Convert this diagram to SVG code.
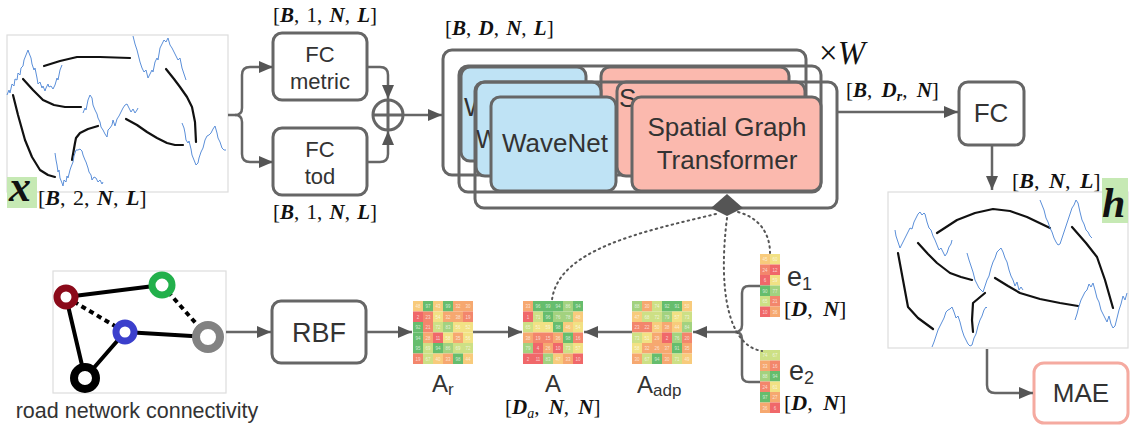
<svg xmlns="http://www.w3.org/2000/svg" width="1135" height="430" viewBox="0 0 1135 430">
<defs>
<style>
.box{fill:#fff;stroke:#666;stroke-width:3}
.frame{fill:none;stroke:#666;stroke-width:3}
.wn{fill:#bfe3f5;stroke:#666;stroke-width:3}
.sg{fill:#fbb9ae;stroke:#666;stroke-width:3}
.lbl{font-family:"Liberation Sans",Arial,sans-serif;fill:#333}
.math{font-family:"Liberation Serif","Times New Roman",serif;fill:#111;word-spacing:2px}
.v{font-style:italic;font-weight:bold}
.con{fill:none;stroke:#666;stroke-width:2.5}
.dot{fill:none;stroke:#555;stroke-width:2;stroke-dasharray:1.5 4;stroke-linecap:round}
.plot{fill:#fff;stroke:#ddd;stroke-width:1.2}
.blk{fill:none;stroke:#111;stroke-width:2.2;stroke-linecap:round;stroke-linejoin:round}
.blu{fill:none;stroke:#5b8fd9;stroke-width:1;stroke-linejoin:round}
.k0{fill:#f0686a}.k1{fill:#f3866c}.k2{fill:#f6a870}.k3{fill:#f8cb7c}
.k4{fill:#f2e184}.k5{fill:#cde085}.k6{fill:#a3d27f}.k7{fill:#66bd6d}
.n{font-family:"Liberation Sans",Arial,sans-serif;font-size:4.5px;fill:#fff;fill-opacity:.7;text-anchor:middle}
.edge{stroke:#000;stroke-width:4;fill:none}
</style>
<marker id="ah" viewBox="0 0 14 12" refX="14" refY="6" markerWidth="14" markerHeight="12" markerUnits="userSpaceOnUse" orient="auto">
<path d="M0,0 L14,6 L0,12 Z" fill="#555"/>
</marker>
</defs>
<rect width="1135" height="430" fill="#fff"/>

<g id="input-x">
<rect class="plot" x="7" y="35" width="221" height="157"/>
<polyline class="blk" points="44,66 60,61 77,57 100,57 130,58"/>
<polyline class="blk" points="23,79 33,90 43,100 54,105 65,107 81,107"/>
<polyline class="blk" points="13,95 18,115 25,140 32,157 40,170 48,175 55,177"/>
<polyline class="blk" points="166,69 174,79 180,87 187,97 192,107 195,122 196,142"/>
<polyline class="blk" points="126,119 137,125 147,132 157,138 167,143 175,145 183,145"/>
<polyline class="blk" points="98,126 88,129 80,133 76,138 75,143 72,160"/>
<polyline class="blu" points="7,95 9,90 10,93 12,84 14,86 15,79 17,80 18,73 20,75 21,68 23,66 24,60 26,55 28,50 29,53 31,58 32,64 34,70 35,68 37,78 38,84 40,82 42,88 43,86 45,91 46,88 48,84 49,87 51,86 53,89 55,85 57,78 58,80 60,70 62,65"/>
<polyline class="blu" points="133,36 135,44 137,50 139,58 140,62 142,68 144,72 146,70 148,78 150,74 152,70 153,72 155,62 157,58 158,60 160,48 162,44 164,40 166,42 168,38 170,45 172,48 174,52 176,56 178,60 180,58 182,68 184,74 186,80"/>
<polyline class="blu" points="83,113 85,108 86,110 88,100 90,95 92,98 93,105 95,110 97,114 98,118 100,122 101,127 103,130 105,134 107,137 108,130 110,128 112,125 113,120 115,126 117,119 119,116 121,112 123,108 125,105 127,104 129,108 131,112 133,109 135,113 137,110 138,108"/>
<polyline class="blu" points="55,153 56,160 57,165 58,172 59,170 60,178 62,183 63,186 64,180 66,182 67,176 68,178 70,170 71,167 73,162 74,156 76,150 78,150 80,149 82,151 83,155 85,160 86,162 88,168 89,172 91,175 92,180 94,177 96,178 98,182 100,180 102,184 103,182"/>
<polyline class="blu" points="182,123 184,128 185,133 186,140 188,143 189,141 191,149 192,155 194,160 196,165 198,163 199,158 201,152 203,148 205,140 207,136 209,135 211,133 213,129 215,126 217,133 218,138 220,142 222,148 224,150 226,150"/>
<rect x="7" y="177" width="30" height="31" fill="#c6e9b4"/>
<text class="math" x="9" y="201" font-size="44" font-style="italic" font-weight="bold">x</text>
<text class="math" x="38" y="205" font-size="22">[<tspan class="v">B</tspan>, 2, <tspan class="v">N</tspan>, <tspan class="v">L</tspan>]</text>
</g>

<g id="fc-metric">
<text class="math" x="273" y="22" font-size="21">[<tspan class="v">B</tspan>, 1, <tspan class="v">N</tspan>, <tspan class="v">L</tspan>]</text>
<rect class="box" x="273" y="33" width="94" height="67" rx="9"/>
<text class="lbl" x="320" y="62" font-size="22" text-anchor="middle">FC</text>
<text class="lbl" x="320" y="89" font-size="22" text-anchor="middle">metric</text>
</g>

<g id="fc-tod">
<rect class="box" x="273" y="128" width="94" height="67" rx="9"/>
<text class="lbl" x="320" y="157" font-size="22" text-anchor="middle">FC</text>
<text class="lbl" x="320" y="184" font-size="22" text-anchor="middle">tod</text>
<text class="math" x="273" y="219" font-size="21">[<tspan class="v">B</tspan>, 1, <tspan class="v">N</tspan>, <tspan class="v">L</tspan>]</text>
</g>

<g id="sum">
<circle cx="388" cy="115" r="15" fill="#fff" stroke="#666" stroke-width="3"/>
<path d="M373,115 H403 M388,100 V130" stroke="#666" stroke-width="3"/>
</g>

<g id="layers">
<text class="math" x="445" y="35" font-size="21">[<tspan class="v">B</tspan>, <tspan class="v">D</tspan>, <tspan class="v">N</tspan>, <tspan class="v">L</tspan>]</text>
<text class="math" x="819" y="64" font-size="33">×<tspan font-style="italic">W</tspan></text>
<g id="layer-1">
<rect class="frame" x="443" y="50" width="363" height="125" rx="9"/>
<rect class="wn" x="461" y="67" width="125" height="94" rx="9"/>
<text class="lbl" x="464" y="116" font-size="26">W</text>
<rect class="sg" x="601" y="67" width="188" height="94" rx="9"/>
</g>
<g id="layer-2">
<rect class="frame" x="459" y="66" width="362" height="126" rx="9"/>
<rect class="wn" x="476" y="82" width="125" height="94" rx="9"/>
<text class="lbl" x="476" y="148" font-size="25">W</text>
<rect class="sg" x="617" y="82" width="188" height="94" rx="9"/>
<text class="lbl" x="619" y="107" font-size="26">S</text>
</g>
<g id="layer-3">
<rect class="frame" x="475" y="82" width="362" height="126" rx="9"/>
<rect class="wn" x="491" y="97" width="125" height="94" rx="9"/>
<text class="lbl" x="555" y="152" font-size="26" text-anchor="middle">WaveNet</text>
<rect class="sg" x="632" y="97" width="189" height="94" rx="9"/>
<text class="lbl" x="727" y="136" font-size="26" text-anchor="middle">Spatial Graph</text>
<text class="lbl" x="727" y="169" font-size="26" text-anchor="middle">Transformer</text>
</g>
<polygon points="727,194 743,208 727,216 711,208" fill="#555"/>
</g>

<g id="fc-out">
<text class="math" x="846" y="97" font-size="21" style="word-spacing:4px">[<tspan class="v">B</tspan>, <tspan class="v">D</tspan><tspan class="v" font-size="14" dy="4">r</tspan><tspan dy="-4">, </tspan><tspan class="v">N</tspan>]</text>
<rect class="box" x="959" y="82" width="65" height="63" rx="9"/>
<text class="lbl" x="991" y="122" font-size="26" text-anchor="middle">FC</text>
</g>

<g id="output-h">
<text class="math" x="1012" y="188" font-size="22" style="word-spacing:4px">[<tspan class="v">B</tspan>, <tspan class="v">N</tspan>, <tspan class="v">L</tspan>]</text>
<rect class="plot" x="888" y="192" width="240" height="156"/>
<polyline class="blk" points="937,233 957,220 975,213 993,209 1010,211 1027,217 1050,228"/>
<polyline class="blk" points="918,243 928,254 937,263 950,273 961,277 972,280"/>
<polyline class="blk" points="898,253 903,280 908,307 918,318 933,329"/>
<polyline class="blk" points="1072,227 1086,243 1097,257 1105,280 1113,308"/>
<polyline class="blk" points="995,278 1008,286 1020,293 1040,299 1060,303 1078,306"/>
<polyline class="blk" points="985,293 973,303 972,320 973,332"/>
<polyline class="blu" points="895,230 896,236 898,242 900,248 902,244 904,240 906,236 908,232 910,228 912,229 914,222 916,218 918,214 920,212 922,215 924,213 925,214 927,222 929,228 931,230 933,236 935,240 937,245 939,250 941,248 943,252 945,256 947,253 949,247 951,244 952,240"/>
<polyline class="blu" points="1040,200 1042,205 1044,210 1046,218 1048,222 1050,228 1052,232 1054,238 1056,242 1058,245 1060,244 1062,238 1064,232 1066,226 1068,220 1070,214 1072,208 1074,205 1076,200 1078,203 1080,212 1082,220 1084,224 1086,230 1088,232 1090,236 1092,238"/>
<polyline class="blu" points="967,253 969,260 971,266 973,272 975,280 977,284 979,288 981,290 983,292 985,286 987,280 989,276 991,268 993,262 995,258 997,252 999,250 1001,248 1003,252 1005,258 1007,262 1009,270 1011,276 1013,280 1015,286 1017,282 1019,290 1021,287 1023,290"/>
<polyline class="blu" points="932,347 934,342 936,336 938,330 940,326 942,322 944,318 946,312 948,310 950,309 952,307 954,312 956,318 958,316 960,322 962,330 964,336 966,340 968,344 970,346 972,345 974,338 976,334 978,326 980,320 982,316 984,310 986,307 987,308"/>
<polyline class="blu" points="1075,320 1077,314 1079,306 1081,300 1083,296 1085,292 1087,290 1089,284 1091,287 1093,283 1095,290 1097,298 1099,302 1101,310 1103,314 1105,318 1107,322 1109,316 1111,324 1113,328 1115,326 1117,318 1119,310 1121,304 1123,296 1125,300 1127,293"/>
<rect x="1102" y="178" width="26" height="45" fill="#c6e9b4"/>
<text class="math" x="1102" y="217" font-size="42" font-style="italic" font-weight="bold">h</text>
</g>

<g id="mae">
<rect x="1034" y="363" width="94" height="60" rx="10" fill="#fff" stroke="#f5aaa0" stroke-width="3"/>
<text class="lbl" x="1081" y="402" font-size="26" text-anchor="middle">MAE</text>
</g>

<g id="road-network">
<rect class="plot" x="53" y="271" width="173" height="122"/>
<path class="edge" d="M66,297 L162,285 M66,297 L85,378 M125,332 L85,378 M125,332 L208,337"/>
<path class="edge" stroke-dasharray="5 4" d="M66,297 L125,332 M162,285 L208,337"/>
<circle cx="66" cy="297" r="9" fill="#fff" stroke="#8b0a1a" stroke-width="7"/>
<circle cx="162" cy="285" r="10" fill="#fff" stroke="#22b04b" stroke-width="7"/>
<circle cx="125" cy="332" r="9" fill="#fff" stroke="#3b3fcc" stroke-width="7"/>
<circle cx="208" cy="337" r="12" fill="#fff" stroke="#828282" stroke-width="8"/>
<circle cx="85" cy="378" r="11" fill="#fff" stroke="#000" stroke-width="8"/>
<text class="lbl" x="137" y="418" font-size="21.5" text-anchor="middle">road network connectivity</text>
</g>

<g id="rbf">
<rect class="box" x="272" y="301" width="94" height="62" rx="9"/>
<text class="lbl" x="319" y="342" font-size="27" text-anchor="middle">RBF</text>
</g>

<g id="A-r">
<g transform="translate(413,301)">
<rect class="k3" x="0" y="0" width="10" height="10.5"/><rect class="k7" x="10" y="0" width="10" height="10.5"/><rect class="k3" x="20" y="0" width="10" height="10.5"/><rect class="k7" x="30" y="0" width="10" height="10.5"/><rect class="k2" x="40" y="0" width="10" height="10.5"/><rect class="k2" x="50" y="0" width="10" height="10.5"/>
<rect class="k0" x="0" y="10.5" width="10" height="10.5"/><rect class="k1" x="10" y="10.5" width="10" height="10.5"/><rect class="k4" x="20" y="10.5" width="10" height="10.5"/><rect class="k2" x="30" y="10.5" width="10" height="10.5"/><rect class="k2" x="40" y="10.5" width="10" height="10.5"/><rect class="k1" x="50" y="10.5" width="10" height="10.5"/>
<rect class="k7" x="0" y="21" width="10" height="10.5"/><rect class="k1" x="10" y="21" width="10" height="10.5"/><rect class="k5" x="20" y="21" width="10" height="10.5"/><rect class="k6" x="30" y="21" width="10" height="10.5"/><rect class="k4" x="40" y="21" width="10" height="10.5"/><rect class="k4" x="50" y="21" width="10" height="10.5"/>
<rect class="k7" x="0" y="31.5" width="10" height="10.5"/><rect class="k2" x="10" y="31.5" width="10" height="10.5"/><rect class="k0" x="20" y="31.5" width="10" height="10.5"/><rect class="k4" x="30" y="31.5" width="10" height="10.5"/><rect class="k2" x="40" y="31.5" width="10" height="10.5"/><rect class="k4" x="50" y="31.5" width="10" height="10.5"/>
<rect class="k7" x="0" y="42" width="10" height="10.5"/><rect class="k5" x="10" y="42" width="10" height="10.5"/><rect class="k7" x="20" y="42" width="10" height="10.5"/><rect class="k6" x="30" y="42" width="10" height="10.5"/><rect class="k5" x="40" y="42" width="10" height="10.5"/><rect class="k5" x="50" y="42" width="10" height="10.5"/>
<rect class="k1" x="0" y="52.5" width="10" height="10.5"/><rect class="k5" x="10" y="52.5" width="10" height="10.5"/><rect class="k3" x="20" y="52.5" width="10" height="10.5"/><rect class="k2" x="30" y="52.5" width="10" height="10.5"/><rect class="k7" x="40" y="52.5" width="10" height="10.5"/><rect class="k3" x="50" y="52.5" width="10" height="10.5"/>
<text class="n" x="5" y="7">48</text><text class="n" x="15" y="7">97</text><text class="n" x="25" y="7">43</text><text class="n" x="35" y="7">99</text><text class="n" x="45" y="7">32</text><text class="n" x="55" y="7">30</text>
<text class="n" x="5" y="17.5">2</text><text class="n" x="15" y="17.5">23</text><text class="n" x="25" y="17.5">54</text><text class="n" x="35" y="17.5">32</text><text class="n" x="45" y="17.5">38</text><text class="n" x="55" y="17.5">19</text>
<text class="n" x="5" y="28">92</text><text class="n" x="15" y="28">21</text><text class="n" x="25" y="28">72</text><text class="n" x="35" y="28">83</text><text class="n" x="45" y="28">56</text><text class="n" x="55" y="28">52</text>
<text class="n" x="5" y="38.5">94</text><text class="n" x="15" y="38.5">28</text><text class="n" x="25" y="38.5">11</text><text class="n" x="35" y="38.5">58</text><text class="n" x="45" y="38.5">35</text><text class="n" x="55" y="38.5">56</text>
<text class="n" x="5" y="49">95</text><text class="n" x="15" y="49">69</text><text class="n" x="25" y="49">94</text><text class="n" x="35" y="49">86</text><text class="n" x="45" y="49">69</text><text class="n" x="55" y="49">72</text>
<text class="n" x="5" y="59.5">19</text><text class="n" x="15" y="59.5">67</text><text class="n" x="25" y="59.5">40</text><text class="n" x="35" y="59.5">33</text><text class="n" x="45" y="59.5">98</text><text class="n" x="55" y="59.5">44</text>
</g>
<text class="lbl" x="432" y="392" font-size="24">A<tspan font-size="17" dy="3">r</tspan></text>
</g>

<g id="A">
<g transform="translate(523,301)">
<rect class="k2" x="0" y="0" width="10" height="10.5"/><rect class="k7" x="10" y="0" width="10" height="10.5"/><rect class="k7" x="20" y="0" width="10" height="10.5"/><rect class="k7" x="30" y="0" width="10" height="10.5"/><rect class="k6" x="40" y="0" width="10" height="10.5"/><rect class="k7" x="50" y="0" width="10" height="10.5"/>
<rect class="k0" x="0" y="10.5" width="10" height="10.5"/><rect class="k5" x="10" y="10.5" width="10" height="10.5"/><rect class="k7" x="20" y="10.5" width="10" height="10.5"/><rect class="k6" x="30" y="10.5" width="10" height="10.5"/><rect class="k6" x="40" y="10.5" width="10" height="10.5"/><rect class="k3" x="50" y="10.5" width="10" height="10.5"/>
<rect class="k5" x="0" y="21" width="10" height="10.5"/><rect class="k4" x="10" y="21" width="10" height="10.5"/><rect class="k4" x="20" y="21" width="10" height="10.5"/><rect class="k7" x="30" y="21" width="10" height="10.5"/><rect class="k3" x="40" y="21" width="10" height="10.5"/><rect class="k4" x="50" y="21" width="10" height="10.5"/>
<rect class="k2" x="0" y="31.5" width="10" height="10.5"/><rect class="k1" x="10" y="31.5" width="10" height="10.5"/><rect class="k1" x="20" y="31.5" width="10" height="10.5"/><rect class="k2" x="30" y="31.5" width="10" height="10.5"/><rect class="k7" x="40" y="31.5" width="10" height="10.5"/><rect class="k1" x="50" y="31.5" width="10" height="10.5"/>
<rect class="k6" x="0" y="42" width="10" height="10.5"/><rect class="k0" x="10" y="42" width="10" height="10.5"/><rect class="k2" x="20" y="42" width="10" height="10.5"/><rect class="k0" x="30" y="42" width="10" height="10.5"/><rect class="k5" x="40" y="42" width="10" height="10.5"/><rect class="k4" x="50" y="42" width="10" height="10.5"/>
<rect class="k0" x="0" y="52.5" width="10" height="10.5"/><rect class="k0" x="10" y="52.5" width="10" height="10.5"/><rect class="k6" x="20" y="52.5" width="10" height="10.5"/><rect class="k3" x="30" y="52.5" width="10" height="10.5"/><rect class="k2" x="40" y="52.5" width="10" height="10.5"/><rect class="k0" x="50" y="52.5" width="10" height="10.5"/>
<text class="n" x="5" y="7">33</text><text class="n" x="15" y="7">96</text><text class="n" x="25" y="7">99</text><text class="n" x="35" y="7">94</text><text class="n" x="45" y="7">86</text><text class="n" x="55" y="7">94</text>
<text class="n" x="5" y="17.5">1</text><text class="n" x="15" y="17.5">71</text><text class="n" x="25" y="17.5">96</text><text class="n" x="35" y="17.5">76</text><text class="n" x="45" y="17.5">78</text><text class="n" x="55" y="17.5">48</text>
<text class="n" x="5" y="28">65</text><text class="n" x="15" y="28">51</text><text class="n" x="25" y="28">59</text><text class="n" x="35" y="28">98</text><text class="n" x="45" y="28">46</text><text class="n" x="55" y="28">54</text>
<text class="n" x="5" y="38.5">38</text><text class="n" x="15" y="38.5">19</text><text class="n" x="25" y="38.5">15</text><text class="n" x="35" y="38.5">36</text><text class="n" x="45" y="38.5">98</text><text class="n" x="55" y="38.5">16</text>
<text class="n" x="5" y="49">79</text><text class="n" x="15" y="49">4</text><text class="n" x="25" y="49">26</text><text class="n" x="35" y="49">10</text><text class="n" x="45" y="49">73</text><text class="n" x="55" y="49">57</text>
<text class="n" x="5" y="59.5">2</text><text class="n" x="15" y="59.5">11</text><text class="n" x="25" y="59.5">83</text><text class="n" x="35" y="59.5">47</text><text class="n" x="45" y="59.5">33</text><text class="n" x="55" y="59.5">10</text>
</g>
<text class="lbl" x="553" y="392" font-size="24" text-anchor="middle">A</text>
<text class="math" x="505" y="414" font-size="21" style="word-spacing:4px">[<tspan class="v">D</tspan><tspan font-style="italic" font-size="14" dy="4">a</tspan><tspan dy="-4">, </tspan><tspan class="v">N</tspan>, <tspan class="v">N</tspan>]</text>
</g>

<g id="A-adp">
<g transform="translate(632,301)">
<rect class="k6" x="0" y="0" width="10" height="10.5"/><rect class="k2" x="10" y="0" width="10" height="10.5"/><rect class="k5" x="20" y="0" width="10" height="10.5"/><rect class="k7" x="30" y="0" width="10" height="10.5"/><rect class="k7" x="40" y="0" width="10" height="10.5"/><rect class="k3" x="50" y="0" width="10" height="10.5"/>
<rect class="k3" x="0" y="10.5" width="10" height="10.5"/><rect class="k5" x="10" y="10.5" width="10" height="10.5"/><rect class="k5" x="20" y="10.5" width="10" height="10.5"/><rect class="k6" x="30" y="10.5" width="10" height="10.5"/><rect class="k4" x="40" y="10.5" width="10" height="10.5"/><rect class="k5" x="50" y="10.5" width="10" height="10.5"/>
<rect class="k1" x="0" y="21" width="10" height="10.5"/><rect class="k1" x="10" y="21" width="10" height="10.5"/><rect class="k3" x="20" y="21" width="10" height="10.5"/><rect class="k2" x="30" y="21" width="10" height="10.5"/><rect class="k3" x="40" y="21" width="10" height="10.5"/><rect class="k6" x="50" y="21" width="10" height="10.5"/>
<rect class="k5" x="0" y="31.5" width="10" height="10.5"/><rect class="k4" x="10" y="31.5" width="10" height="10.5"/><rect class="k2" x="20" y="31.5" width="10" height="10.5"/><rect class="k0" x="30" y="31.5" width="10" height="10.5"/><rect class="k6" x="40" y="31.5" width="10" height="10.5"/><rect class="k1" x="50" y="31.5" width="10" height="10.5"/>
<rect class="k4" x="0" y="42" width="10" height="10.5"/><rect class="k2" x="10" y="42" width="10" height="10.5"/><rect class="k2" x="20" y="42" width="10" height="10.5"/><rect class="k2" x="30" y="42" width="10" height="10.5"/><rect class="k7" x="40" y="42" width="10" height="10.5"/><rect class="k2" x="50" y="42" width="10" height="10.5"/>
<rect class="k2" x="0" y="52.5" width="10" height="10.5"/><rect class="k5" x="10" y="52.5" width="10" height="10.5"/><rect class="k7" x="20" y="52.5" width="10" height="10.5"/><rect class="k2" x="30" y="52.5" width="10" height="10.5"/><rect class="k5" x="40" y="52.5" width="10" height="10.5"/><rect class="k3" x="50" y="52.5" width="10" height="10.5"/>
<text class="n" x="5" y="7">88</text><text class="n" x="15" y="7">30</text><text class="n" x="25" y="7">74</text><text class="n" x="35" y="7">92</text><text class="n" x="45" y="7">91</text><text class="n" x="55" y="7">50</text>
<text class="n" x="5" y="17.5">47</text><text class="n" x="15" y="17.5">68</text><text class="n" x="25" y="17.5">72</text><text class="n" x="35" y="17.5">79</text><text class="n" x="45" y="17.5">57</text><text class="n" x="55" y="17.5">73</text>
<text class="n" x="5" y="28">23</text><text class="n" x="15" y="28">22</text><text class="n" x="25" y="28">50</text><text class="n" x="35" y="28">38</text><text class="n" x="45" y="28">44</text><text class="n" x="55" y="28">84</text>
<text class="n" x="5" y="38.5">73</text><text class="n" x="15" y="38.5">51</text><text class="n" x="25" y="38.5">29</text><text class="n" x="35" y="38.5">2</text><text class="n" x="45" y="38.5">76</text><text class="n" x="55" y="38.5">20</text>
<text class="n" x="5" y="49">58</text><text class="n" x="15" y="49">32</text><text class="n" x="25" y="49">26</text><text class="n" x="35" y="49">37</text><text class="n" x="45" y="49">91</text><text class="n" x="55" y="49">35</text>
<text class="n" x="5" y="59.5">30</text><text class="n" x="15" y="59.5">67</text><text class="n" x="25" y="59.5">94</text><text class="n" x="35" y="59.5">30</text><text class="n" x="45" y="59.5">71</text><text class="n" x="55" y="59.5">49</text>
</g>
<text class="lbl" x="637" y="393" font-size="24">A<tspan font-size="17" dy="3">adp</tspan></text>
</g>

<g id="e1">
<g transform="translate(760,254)">
<rect class="k3" x="0" y="0" width="10" height="10.5"/><rect class="k4" x="10" y="0" width="10" height="10.5"/>
<rect class="k1" x="0" y="10.5" width="10" height="10.5"/><rect class="k0" x="10" y="10.5" width="10" height="10.5"/>
<rect class="k0" x="0" y="21" width="10" height="10.5"/><rect class="k4" x="10" y="21" width="10" height="10.5"/>
<rect class="k7" x="0" y="31.5" width="10" height="10.5"/><rect class="k6" x="10" y="31.5" width="10" height="10.5"/>
<rect class="k5" x="0" y="42" width="10" height="10.5"/><rect class="k1" x="10" y="42" width="10" height="10.5"/>
<rect class="k0" x="0" y="52.5" width="10" height="10.5"/><rect class="k2" x="10" y="52.5" width="10" height="10.5"/>
<text class="n" x="5" y="7">45</text><text class="n" x="15" y="7">60</text>
<text class="n" x="5" y="17.5">24</text><text class="n" x="15" y="17.5">12</text>
<text class="n" x="5" y="28">6</text><text class="n" x="15" y="28">59</text>
<text class="n" x="5" y="38.5">90</text><text class="n" x="15" y="38.5">77</text>
<text class="n" x="5" y="49">65</text><text class="n" x="15" y="49">21</text>
<text class="n" x="5" y="59.5">10</text><text class="n" x="15" y="59.5">36</text>
</g>
<text class="lbl" x="787" y="286" font-size="27">e<tspan font-size="18" dy="4">1</tspan></text>
<text class="math" x="784" y="316" font-size="22" style="word-spacing:5px">[<tspan class="v">D</tspan>, <tspan class="v">N</tspan>]</text>
</g>

<g id="e2">
<g transform="translate(760,350)">
<rect class="k5" x="0" y="0" width="10" height="10.5"/><rect class="k5" x="10" y="0" width="10" height="10.5"/>
<rect class="k2" x="0" y="10.5" width="10" height="10.5"/><rect class="k1" x="10" y="10.5" width="10" height="10.5"/>
<rect class="k6" x="0" y="21" width="10" height="10.5"/><rect class="k7" x="10" y="21" width="10" height="10.5"/>
<rect class="k1" x="0" y="31.5" width="10" height="10.5"/><rect class="k4" x="10" y="31.5" width="10" height="10.5"/>
<rect class="k7" x="0" y="42" width="10" height="10.5"/><rect class="k2" x="10" y="42" width="10" height="10.5"/>
<rect class="k2" x="0" y="52.5" width="10" height="10.5"/><rect class="k0" x="10" y="52.5" width="10" height="10.5"/>
<text class="n" x="5" y="7">74</text><text class="n" x="15" y="7">67</text>
<text class="n" x="5" y="17.5">33</text><text class="n" x="15" y="17.5">16</text>
<text class="n" x="5" y="28">88</text><text class="n" x="15" y="28">94</text>
<text class="n" x="5" y="38.5">24</text><text class="n" x="15" y="38.5">61</text>
<text class="n" x="5" y="49">97</text><text class="n" x="15" y="49">27</text>
<text class="n" x="5" y="59.5">36</text><text class="n" x="15" y="59.5">6</text>
</g>
<text class="lbl" x="789" y="380" font-size="27">e<tspan font-size="18" dy="4">2</tspan></text>
<text class="math" x="784" y="410" font-size="22" style="word-spacing:5px">[<tspan class="v">D</tspan>, <tspan class="v">N</tspan>]</text>
</g>

<g id="connectors">
<path class="con" d="M228,115 H235 Q242,115 242,108 V75 Q242,67 250,67 H273" marker-end="url(#ah)"/>
<path class="con" d="M235,115 Q242,115 242,122 V154 Q242,162 250,162 H273" marker-end="url(#ah)"/>
<path class="con" d="M367,67 H380 Q388,67 388,75 V99" marker-end="url(#ah)"/>
<path class="con" d="M367,162 H380 Q388,162 388,154 V131" marker-end="url(#ah)"/>
<path class="con" d="M404,115 H442" marker-end="url(#ah)"/>
<path class="con" d="M837,112 H958" marker-end="url(#ah)"/>
<path class="con" d="M992,145 V190" marker-end="url(#ah)"/>
<path class="con" d="M987,349 V385 Q987,393 995,393 H1033" marker-end="url(#ah)"/>
<path class="con" d="M226,332 H271" marker-end="url(#ah)"/>
<path class="con" d="M366,332 H412" marker-end="url(#ah)"/>
<path class="con" d="M473,332 H522" marker-end="url(#ah)"/>
<path class="con" d="M632,332 H584" marker-end="url(#ah)"/>
<path class="con" d="M760,286 H749 Q742,286 742,293 V325 Q742,332 735,332 M760,382 H749 Q742,382 742,375 V339 Q742,332 735,332"/>
<path class="con" d="M736,332 H693" marker-end="url(#ah)"/>
<path class="dot" d="M716,214 C640,232 558,250 552,300"/>
<path class="dot" d="M738,212 C760,218 770,234 770,253"/>
<path class="dot" d="M727,218 C718,290 728,346 762,351"/>
</g>
</svg>
